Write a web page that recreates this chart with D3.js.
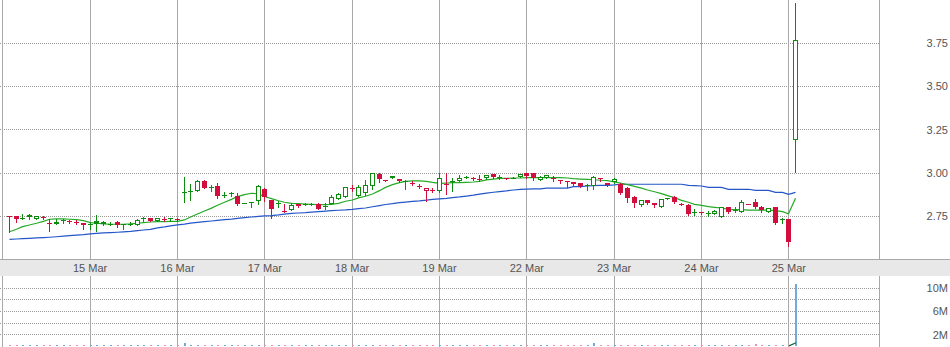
<!DOCTYPE html>
<html><head><meta charset="utf-8">
<script src="https://cdn.jsdelivr.net/npm/d3@7"></script>
<style>
body{margin:0;background:#fff}
svg{display:block}
text{font-family:"Liberation Sans",Arial,sans-serif;font-size:11px;fill:#555}
</style>
</head><body>
<svg id="c" width="950" height="347"></svg>
<script>
// ---------- DATA ----------
const dayLabels = ["12 Mar","15 Mar","16 Mar","17 Mar","18 Mar","19 Mar","22 Mar","23 Mar","24 Mar","25 Mar"];
const barsPerDay = 13;

const opens = [2.750,2.750,2.743,2.756,2.737,2.748,2.713,2.704,2.727,2.725,2.717,2.710,2.708,2.723,2.716,2.708,2.716,2.704,2.706,2.698,2.739,2.740,2.725,2.737,2.738,2.736,
2.890,2.896,2.898,2.954,2.918,2.925,2.875,2.887,2.869,2.827,2.831,2.839,2.908,2.844,2.825,2.779,2.787,2.819,2.823,2.821,2.819,2.810,2.821,2.848,2.860,2.911,2.869,2.883,
2.927,2.994,2.960,2.969,2.967,2.956,2.944,2.927,2.898,2.902,2.898,2.936,2.956,2.954,2.975,2.969,2.967,2.973,2.994,2.973,2.970,2.973,2.975,2.998,2.998,2.960,
2.969,2.969,2.958,2.954,2.948,2.940,2.933,2.925,2.971,2.940,2.948,2.937,2.912,2.863,2.813,2.844,2.825,2.806,2.854,2.860,2.821,2.815,2.775,2.775,2.769,2.763,
2.748,2.802,2.786,2.777,2.821,2.830,2.806,2.777,2.802,2.734,2.732,3.189];
const highs = [2.752,2.750,2.762,2.765,2.750,2.750,2.737,2.737,2.737,2.727,2.729,2.710,2.719,2.758,2.720,2.716,2.720,2.706,2.717,2.737,2.748,2.742,2.739,2.748,2.742,2.740,
2.975,2.935,2.960,2.960,2.930,2.940,2.892,2.892,2.883,2.829,2.833,2.931,2.912,2.846,2.839,2.821,2.825,2.820,2.826,2.824,2.825,2.825,2.873,2.883,2.921,2.931,2.931,2.960,
3.000,2.998,2.962,2.985,2.968,2.960,2.956,2.936,2.912,2.912,2.998,2.998,2.969,2.987,2.983,2.979,2.987,2.990,2.994,2.987,2.973,2.975,2.994,3.000,3.000,2.983,
2.990,2.983,2.960,2.956,2.950,2.940,2.937,2.983,2.973,2.944,2.969,2.940,2.917,2.867,2.846,2.846,2.829,2.852,2.856,2.865,2.827,2.819,2.790,2.777,2.781,2.785,
2.806,2.806,2.802,2.844,2.823,2.848,2.808,2.800,2.806,2.742,2.734,3.983];
const lows = [2.662,2.719,2.735,2.737,2.737,2.737,2.667,2.704,2.713,2.710,2.706,2.679,2.679,2.664,2.700,2.700,2.687,2.679,2.698,2.698,2.725,2.721,2.725,2.725,2.721,2.725,
2.831,2.844,2.898,2.916,2.898,2.854,2.860,2.865,2.815,2.825,2.802,2.819,2.840,2.738,2.802,2.777,2.787,2.802,2.815,2.815,2.790,2.792,2.819,2.848,2.860,2.898,2.869,2.875,
2.906,2.950,2.956,2.969,2.950,2.910,2.931,2.912,2.838,2.888,2.890,2.877,2.898,2.954,2.971,2.960,2.954,2.963,2.969,2.963,2.967,2.969,2.975,2.969,2.960,2.960,
2.969,2.956,2.944,2.921,2.931,2.920,2.900,2.910,2.952,2.927,2.944,2.881,2.835,2.802,2.811,2.819,2.806,2.804,2.850,2.827,2.815,2.758,2.760,2.761,2.752,2.762,
2.746,2.771,2.775,2.775,2.819,2.796,2.773,2.777,2.707,2.710,2.580,3.006];
const closes = [2.748,2.735,2.737,2.748,2.750,2.748,2.713,2.719,2.727,2.725,2.717,2.698,2.700,2.704,2.706,2.708,2.698,2.704,2.706,2.729,2.739,2.723,2.739,2.737,2.738,2.736,
2.890,2.896,2.954,2.916,2.918,2.869,2.875,2.881,2.819,2.827,2.831,2.925,2.864,2.792,2.825,2.779,2.815,2.808,2.818,2.819,2.794,2.810,2.860,2.877,2.917,2.911,2.921,2.931,
2.998,2.963,2.960,2.981,2.954,2.956,2.944,2.927,2.911,2.902,2.969,2.936,2.956,2.969,2.975,2.969,2.967,2.990,2.975,2.979,2.970,2.973,2.994,2.983,2.969,2.979,
2.988,2.969,2.958,2.954,2.935,2.923,2.933,2.979,2.971,2.931,2.967,2.887,2.854,2.825,2.844,2.825,2.815,2.850,2.854,2.834,2.821,2.765,2.775,2.767,2.769,2.781,
2.802,2.775,2.786,2.830,2.821,2.806,2.786,2.800,2.713,2.734,2.603,3.766];

const maShort = [2.661,2.675,2.690,2.700,2.710,2.721,2.733,2.735,2.735,2.733,2.731,2.725,2.714,2.710,2.706,2.704,2.704,2.704,2.706,2.710,2.714,2.717,2.719,2.719,2.721,2.721,
2.729,2.746,2.763,2.781,2.797,2.814,2.831,2.848,2.864,2.875,2.883,2.879,2.864,2.852,2.840,2.831,2.825,2.823,2.821,2.819,2.817,2.817,2.819,2.825,2.837,2.844,2.856,2.866,
2.879,2.898,2.917,2.933,2.944,2.952,2.954,2.954,2.952,2.946,2.940,2.942,2.944,2.944,2.946,2.948,2.952,2.960,2.965,2.969,2.969,2.971,2.971,2.973,2.973,2.973,
2.973,2.973,2.973,2.971,2.967,2.965,2.963,2.961,2.958,2.956,2.948,2.942,2.933,2.923,2.913,2.902,2.892,2.881,2.869,2.858,2.842,2.831,2.819,2.813,2.806,2.802,
2.798,2.790,2.788,2.788,2.786,2.786,2.786,2.786,2.783,2.777,2.765,2.854];
const maLong = [2.617,2.619,2.621,2.623,2.625,2.627,2.629,2.632,2.635,2.638,2.641,2.644,2.648,2.651,2.654,2.656,2.658,2.660,2.663,2.667,2.671,2.675,2.683,2.689,2.695,2.700,
2.705,2.711,2.715,2.719,2.723,2.727,2.731,2.734,2.738,2.742,2.746,2.749,2.752,2.754,2.758,2.763,2.767,2.769,2.771,2.774,2.777,2.780,2.783,2.785,2.787,2.790,2.794,2.798,
2.805,2.812,2.818,2.823,2.829,2.832,2.836,2.839,2.843,2.848,2.851,2.854,2.858,2.862,2.867,2.872,2.878,2.884,2.889,2.893,2.897,2.902,2.905,2.907,2.908,2.908,
2.913,2.913,2.913,2.913,2.921,2.921,2.925,2.927,2.929,2.929,2.931,2.935,2.935,2.935,2.935,2.935,2.935,2.935,2.935,2.935,2.935,2.929,2.927,2.925,2.917,2.917,
2.917,2.906,2.906,2.906,2.906,2.900,2.900,2.900,2.888,2.888,2.877,2.888];

// volume in millions
const volumes = [0.15,0.12,0.10,0.12,0.10,0.10,0.15,0.10,0.10,0.12,0.10,0.12,0.15,0.20,0.12,0.10,0.12,0.10,0.10,0.12,0.10,0.12,0.10,0.10,0.10,0.12,
0.55,0.20,0.18,0.15,0.12,0.15,0.12,0.10,0.15,0.10,0.10,0.15,0.12,0.18,0.10,0.12,0.10,0.10,0.10,0.10,0.12,0.10,0.12,0.12,0.15,0.10,0.12,0.15,
0.20,0.15,0.10,0.10,0.12,0.10,0.10,0.10,0.15,0.10,0.15,0.15,0.10,0.10,0.10,0.10,0.10,0.12,0.12,0.10,0.10,0.10,0.12,0.12,0.12,0.10,
0.10,0.10,0.10,0.10,0.12,0.12,0.10,0.50,0.10,0.12,0.12,0.15,0.18,0.15,0.12,0.12,0.10,0.12,0.10,0.12,0.10,0.15,0.12,0.10,0.10,0.10,
0.15,0.12,0.10,0.15,0.10,0.40,0.12,0.10,0.18,0.10,0.20,10.75];
const volAvgLast = [0.05,0.60];   // volume average, last two bars

const priceTicks = [2.75,3.00,3.25,3.50,3.75];
const volTicks = [2,4,6,8,10];
const volTickLabels = ["2M","","6M","","10M"];

// ---------- CHART ----------
const svg = d3.select("#c");
const W = 950, plotRight = 879.5;
const mainBottom = 259, bandBottom = 276, H = 347;
const RED = "#d20f3c", GREEN = "#0e8c0e";

const x = d3.scaleLinear().domain([0,130]).range([2.3, 2.3 + 130*6.718]);
const y = d3.scaleLinear().domain([2.75,3.75]).range([216.3,43.1]);
const yv = d3.scaleLinear().domain([0,10]).range([346.2,288.3]);

const bars = opens.map((o,i)=>({j:i+1,o,h:highs[i],l:lows[i],c:closes[i],v:volumes[i]}));
bars.forEach((b,i)=>{
  const prev = i===0 ? b.o : bars[i-1].c;
  b.up = i===0 ? b.c >= b.o : b.c >= prev;
  b.color = b.up ? GREEN : RED;
});

svg.append("rect").attr("width",W).attr("height",H).attr("fill","#fff");

const gMain = svg.append("g").attr("shape-rendering","crispEdges");
gMain.selectAll("line.pg").data(priceTicks).join("line")
  .attr("x1",0).attr("x2",plotRight)
  .attr("y1",d=>Math.floor(y(d))+0.5).attr("y2",d=>Math.floor(y(d))+0.5)
  .attr("stroke","#9a9a9a").attr("stroke-dasharray","1,1");

gMain.selectAll("line.vg").data(volTicks).join("line")
  .attr("x1",0).attr("x2",plotRight)
  .attr("y1",d=>Math.floor(yv(d))+0.5).attr("y2",d=>Math.floor(yv(d))+0.5)
  .attr("stroke","#9a9a9a").attr("stroke-dasharray","1,1");

const dayIdx = dayLabels.map((d,k)=>k*barsPerDay);
[[0,mainBottom],[bandBottom,H]].forEach(([a,b])=>{
  gMain.selectAll(null).data(dayIdx).join("line")
    .attr("x1",d=>Math.round(x(d))+0.5).attr("x2",d=>Math.round(x(d))+0.5)
    .attr("y1",a).attr("y2",b).attr("stroke","#a8a8a8");
  gMain.append("line").attr("x1",plotRight).attr("x2",plotRight)
    .attr("y1",a).attr("y2",b).attr("stroke","#a8a8a8");
});

svg.append("rect").attr("x",0).attr("y",mainBottom).attr("width",W)
  .attr("height",bandBottom-mainBottom).attr("fill","#e8e8e8");
svg.append("line").attr("x1",0).attr("x2",W).attr("y1",mainBottom+0.5).attr("y2",mainBottom+0.5)
  .attr("stroke","#a8a8a8").attr("shape-rendering","crispEdges");
svg.selectAll("text.xl").data(dayIdx.slice(1)).join("text")
  .attr("x",d=>x(d)+0.5).attr("y",271.5).attr("text-anchor","middle")
  .text((d,i)=>dayLabels[i+1]);

svg.selectAll("text.yl").data(priceTicks).join("text")
  .attr("x",948).attr("y",d=>y(d)+4).attr("text-anchor","end")
  .text(d=>d.toFixed(2));
svg.selectAll("text.vl").data(volTicks).join("text")
  .attr("x",948).attr("y",d=>yv(d)+4).attr("text-anchor","end")
  .text((d,i)=>volTickLabels[i]);

const lineGen = d3.line().x((d,i)=>Math.round(x(i+1))+0.5).y(d=>y(d));
svg.append("path").datum(maLong).attr("d",lineGen).attr("fill","none")
  .attr("stroke","#2456c8").attr("stroke-width",1.2);
svg.append("path").datum(maShort).attr("d",lineGen).attr("fill","none")
  .attr("stroke","#25aa25").attr("stroke-width",1.2);

const gC = svg.append("g").attr("shape-rendering","crispEdges");
bars.forEach(b=>{
  const cx = Math.round(x(b.j));
  const g = gC.append("g");
  g.append("line").attr("x1",cx+0.5).attr("x2",cx+0.5)
    .attr("y1",Math.round(y(b.h))).attr("y2",Math.round(y(b.l))+1)
    .attr("stroke",b.color);
  const top = Math.round(y(Math.max(b.o,b.c)));
  const bot = Math.round(y(Math.min(b.o,b.c)));
  if (bot - top < 2) {
    g.append("line").attr("x1",cx-2).attr("x2",cx+3)
      .attr("y1",top+0.5).attr("y2",top+0.5).attr("stroke",b.color);
  } else if (b.c > b.o) {
    g.append("rect").attr("x",cx-1.5).attr("y",top+0.5).attr("width",4)
      .attr("height",bot-top-1).attr("fill","#fff").attr("stroke",b.color);
  } else {
    g.append("rect").attr("x",cx-2).attr("y",top).attr("width",5)
      .attr("height",bot-top).attr("fill",b.color);
  }
});

const gV = svg.append("g").attr("shape-rendering","crispEdges");
gV.selectAll("rect").data(bars).join("rect")
  .attr("x",d=>Math.round(x(d.j))).attr("width",2)
  .attr("y",d=>Math.min(yv(d.v), yv(0)-1)).attr("height",d=>Math.max(1, yv(0)-yv(d.v)))
  .attr("fill",d=>d.up ? "#72a9dc" : "#f28db2");
svg.append("path").datum(volAvgLast)
  .attr("d",d3.line().x((d,i)=>Math.round(x(117+i))+1).y(d=>yv(d)))
  .attr("fill","none").attr("stroke","#0b6b2f").attr("stroke-width",1.2);
</script>
</body></html>
